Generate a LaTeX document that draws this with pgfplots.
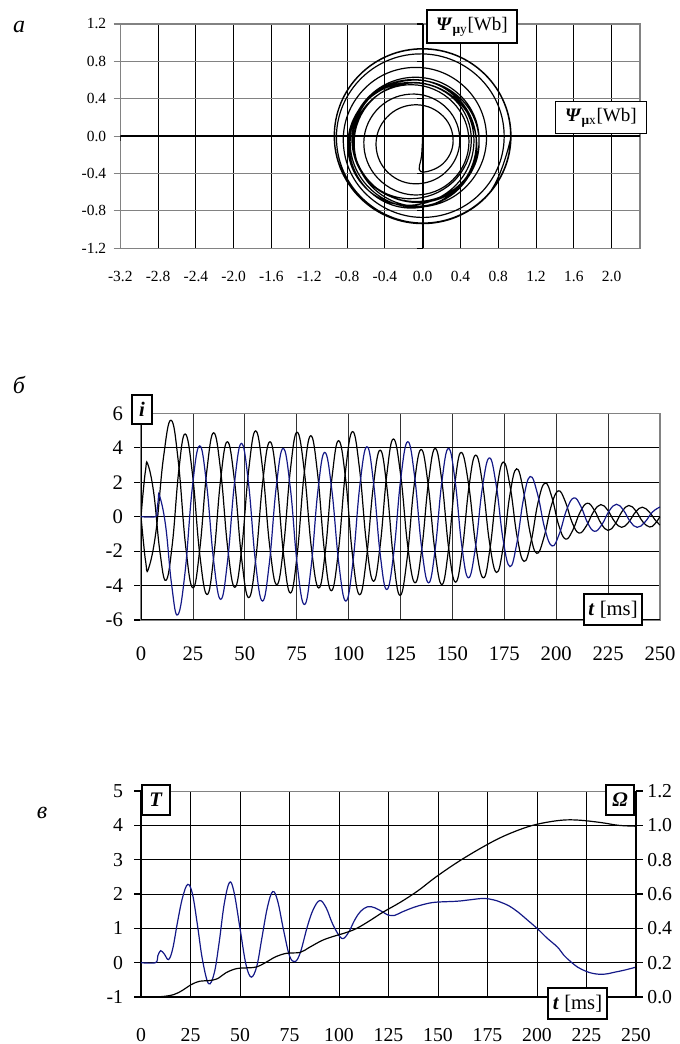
\documentclass[border=0pt]{standalone}
\usepackage{fontspec}
\setmainfont{Liberation Serif}
\usepackage{pgfplots}
\pgfplotsset{compat=1.18}
\definecolor{cblue}{RGB}{20,25,135}
\definecolor{gline}{RGB}{130,130,130}
\newcommand{\fs}[1]{\fontsize{#1}{#1}\selectfont}

\begin{document}
\begin{tikzpicture}
\useasboundingbox (0,0) rectangle (509.25pt,783pt);

% ================= panel a =================
\begin{axis}[at={(90.2pt,596.8pt)}, anchor=south west, scale only axis,
  width=389.8pt, height=168.2pt,
  xmin=-3.2, xmax=2.3, ymin=-1.2, ymax=1.2,
  xtick={-3.2,-2.8,-2.4,-2.0,-1.6,-1.2,-0.8,-0.4,0,0.4,0.8,1.2,1.6,2.0},
  xticklabels={-3.2,-2.8,-2.4,-2.0,-1.6,-1.2,-0.8,-0.4,0.0,0.4,0.8,1.2,1.6,2.0},
  ytick={-1.2,-0.8,-0.4,0,0.4,0.8,1.2},
  yticklabels={-1.2,-0.8,-0.4,0.0,0.4,0.8,1.2},
  tick label style={font=\fs{11.6}},
  xtick style={draw=none}, ytick style={gline, line width=0.8pt},
  tick align=outside, major tick length=5pt, ytick pos=left,
  xticklabel style={yshift=-8.5pt, text height=8pt, text depth=0pt}, yticklabel style={xshift=-2pt},
  grid=major, x grid style={black, line width=0.6pt}, y grid style={gline, line width=0.9pt},
  axis line style={gline, line width=0.9pt},
]
\draw[black, line width=1.3pt] (axis cs:-3.2,0) -- (axis cs:2.3,0);
\draw[black, line width=1.3pt] (axis cs:0,-1.2) -- (axis cs:0,1.2);
\pgfplotsinvokeforeach{-3.2,-2.8,-2.4,-2.0,-1.6,-1.2,-0.8,-0.4,0.4,0.8,1.2,1.6,2.0}{
  \draw[black, line width=0.8pt] (axis cs:#1,0) -- ([yshift=-3.5pt]axis cs:#1,0);}
\pgfplotsinvokeforeach{-1.2,-0.8,-0.4,0.4,0.8,1.2}{
  \draw[black, line width=0.8pt] (axis cs:0,#1) -- ([xshift=-4pt]axis cs:0,#1);}
\addplot[black, line width=0.9pt, smooth, tension=0.68] coordinates {
(0,0) (0,0.2) (0,0.35) (0,0.2) (0,0) (-0.01,-0.2)
(-0.02,-0.38) (0.215,-0.295) (0.3225,-0.0525) (0.219,0.211) (-0.055,0.335) (-0.35,0.23) (-0.4925,-0.0575) (-0.3885,-0.3665)
(-0.09,-0.51) (0.24,-0.389) (0.3925,-0.06) (0.264,0.29) (-0.085,0.45) (-0.455,0.311) (-0.6225,-0.06) (-0.473,-0.452)
(-0.08,-0.63) (0.321,-0.466) (0.49,-0.055) (0.316,0.366) (-0.11,0.55) (-0.547,0.382) (-0.74,-0.045) (-0.5725,-0.4825)
(-0.14,-0.67) (0.317,-0.4945) (0.515,-0.055) (0.341,0.388) (-0.10,0.57) (-0.544,0.377) (-0.725,-0.085) (-0.528,-0.5505)
(-0.06,-0.75) (0.39,-0.557) (0.5725,-0.0925) (0.371,0.376) (-0.105,0.575) (-0.584,0.387) (-0.7925,-0.0775) (-0.611,-0.546)
(-0.15,-0.74) (0.3355,-0.5405) (0.5425,-0.065) (0.3585,0.4085) (-0.10,0.605) (-0.557,0.412) (-0.7375,-0.055) (-0.5295,-0.5195)
(-0.05,-0.71) (0.41,-0.523) (0.5975,-0.06) (0.396,0.407) (-0.085,0.60) (-0.5695,0.4005) (-0.7775,-0.08) (-0.59,-0.564)
(-0.12,-0.77) (0.365,-0.563) (0.5675,-0.0775) (0.3745,0.4045) (-0.095,0.605) (-0.561,0.413) (-0.7475,-0.0525) (-0.544,-0.514)
(-0.07,-0.70) (0.399,-0.5125) (0.5975,-0.045) (0.403,0.4295) (-0.075,0.63) (-0.56,0.4315) (-0.7675,-0.055) (-0.57,-0.5485)
(-0.08,-0.76) (0.437,-0.563) (0.675,-0.05) (0.4805,0.4895) (-0.045,0.735) (-0.597,0.526) (-0.84,-0.03) (-0.6065,-0.6125)
(-0.01,-0.87) (0.599,-0.6255) (0.8625,-0.015) (0.616,0.6095) (-0.005,0.88) (-0.64,0.6285) (-0.9125,-0.005) (-0.651,-0.6525)
(0,-0.93) (0.658,-0.658) (0.931,0) (0.659,0.659) (0,0.9325) (-0.66,0.66) (-0.934,0) (-0.66,-0.66)
(0,-0.935) (0.661,-0.661) (0.935,0) (0.661,0.661) (0,0.936) (-0.662,0.662) (-0.936,0) (-0.662,-0.662)
(0,-0.937) (0.662,-0.662) (0.937,0)
};
\end{axis}

% ================= panel b =================
\begin{axis}[at={(105.75pt,318pt)}, anchor=south west, scale only axis,
  width=389.25pt, height=155pt,
  xmin=0, xmax=250, ymin=-6, ymax=6,
  xtick={0,25,50,75,100,125,150,175,200,225,250},
  xticklabels={0,25,50,75,100,125,150,175,200,225,250},
  ytick={-6,-4,-2,0,2,4,6},
  yticklabels={-6,-4,-2,0,2,4,6},
  tick label style={font=\fs{15.5}},
  xtick style={draw=none}, ytick style={black, line width=0.8pt},
  tick align=outside, major tick length=5pt, ytick pos=left,
  xticklabel style={yshift=-11pt, text height=11pt, text depth=0pt}, yticklabel style={xshift=-5pt},
  grid=major, x grid style={black!80, line width=0.6pt}, y grid style={black, line width=0.7pt},
  axis line style={gline, line width=0.9pt},
]
\draw[black, line width=1pt] (rel axis cs:0,0) -- (rel axis cs:0,1);
\draw[black, line width=1pt] (rel axis cs:0,0) -- (rel axis cs:1,0);
\draw[black, line width=1.1pt] (axis cs:0,0) -- (axis cs:250,0);
\addplot[black, line width=0.9pt, smooth, tension=0.72] coordinates {
(0,0) (1.2,-1.5) (2.3,-2.65) (3.5,-3.06)
(7.17,-0.90) (10.83,3.44) (14.5,5.6)
(18.0,3.17) (21.5,-1.70) (25,-4.13)
(28.33,-1.88) (31.67,2.62) (35,4.87)
(38.4,2.63) (41.8,-1.86) (45.2,-4.1)
(48.53,-1.83) (51.87,2.71) (55.2,4.98)
(58.6,2.75) (62.0,-1.72) (65.4,-3.95)
(68.67,-1.74) (71.93,2.69) (75.2,4.9)
(78.67,2.64) (82.13,-1.88) (85.6,-4.14)
(88.8,-2.00) (92.0,2.27) (95.2,4.41)
(98.57,2.18) (101.93,-2.30) (105.3,-4.53)
(108.6,-2.43) (111.9,1.76) (115.2,3.86)
(118.4,1.75) (121.6,-2.46) (124.8,-4.57)
(128.17,-2.45) (131.53,1.78) (134.9,3.9)
(138.23,1.94) (141.57,-1.98) (144.9,-3.94)
(148.0,-2.02) (151.1,1.81) (154.2,3.73)
(157.77,1.91) (161.33,-1.73) (164.9,-3.55)
(168.1,-1.87) (171.3,1.49) (174.5,3.17)
(177.83,1.73) (181.17,-1.16) (184.5,-2.6)
(187.87,-1.46) (191.23,0.81) (194.6,1.95)
(197.9,1.14) (201.2,-0.49) (204.5,-1.3)
(208.0,-0.78) (211.5,0.26) (215,0.78)
(218.33,0.385) (221.67,-0.405) (225,-0.8)
(228.33,-0.44) (231.67,0.29) (235,0.65)
(238.33,0.34) (241.67,-0.29) (245,-0.6)
(247.5,-0.42) (250,0)
};
\addplot[black, line width=0.9pt, smooth, tension=0.72] coordinates {
(0,0) (1.1,1.5) (2.2,2.7) (3.2,3.08)
(6.13,1.385) (9.07,-2.0) (12,-3.7)
(15.1,-1.575) (18.2,2.675) (21.3,4.8)
(24.8,2.47) (28.3,-2.19) (31.8,-4.52)
(35.07,-2.30) (38.33,2.13) (41.6,4.35)
(45.03,2.09) (48.47,-2.44) (51.9,-4.7)
(55.3,-2.44) (58.7,2.09) (62.1,4.35)
(65.4,2.155) (68.7,-2.235) (72,-4.43)
(75.27,-2.15) (78.53,2.42) (81.8,4.7)
(85.1,2.45) (88.4,-2.05) (91.7,-4.3)
(95.1,-1.99) (98.5,2.63) (101.9,4.94)
(105.27,2.77) (108.63,-1.58) (112,-3.75)
(115.2,-1.685) (118.4,2.445) (121.6,4.51)
(125.07,2.42) (128.53,-1.75) (132,-3.84)
(135.23,-1.89) (138.47,2.01) (141.7,3.96)
(144.97,2.02) (148.23,-1.86) (151.5,-3.8)
(154.73,-1.96) (157.97,1.73) (161.2,3.57)
(164.57,1.87) (167.93,-1.54) (171.3,-3.24)
(174.5,-1.735) (177.7,1.275) (180.9,2.78)
(184.13,1.55) (187.37,-0.90) (190.6,-2.13)
(194.07,-1.22) (197.53,0.59) (201,1.5)
(204.33,0.89) (207.67,-0.34) (211,-0.95)
(214.5,-0.54) (218.0,0.29) (221.5,0.7)
(224.83,0.37) (228.17,-0.29) (231.5,-0.62)
(234.83,-0.33) (238.17,0.26) (241.5,0.55)
(245,0.25) (247.5,-0.17) (250,-0.49)
};
\addplot[cblue, line width=0.9pt, smooth, tension=0.72] coordinates {
(0,0) (7,0) (7.63,0.31) (8.27,0.92) (8.9,1.23)
(11.83,-0.50) (14.77,-3.97) (17.7,-5.7)
(21.2,-3.25) (24.7,1.66) (28.2,4.11)
(31.6,1.88) (35.0,-2.57) (38.4,-4.8)
(41.73,-2.54) (45.07,1.99) (48.4,4.25)
(51.77,1.96) (55.13,-2.61) (58.5,-4.9)
(61.83,-2.69) (65.17,1.75) (68.5,3.96)
(71.9,1.70) (75.3,-2.84) (78.7,-5.1)
(81.97,-2.89) (85.23,1.52) (88.5,3.73)
(91.9,1.57) (95.3,-2.74) (98.7,-4.9)
(102.07,-2.66) (105.43,1.82) (108.8,4.06)
(112.0,1.99) (115.2,-2.16) (118.4,-4.23)
(121.77,-2.09) (125.13,2.21) (128.5,4.35)
(131.83,2.30) (135.17,-1.79) (138.5,-3.84)
(141.7,-1.89) (144.9,2.01) (148.1,3.96)
(151.3,2.08) (154.5,-1.67) (157.7,-3.55)
(161.07,-1.81) (164.43,1.67) (167.8,3.41)
(171.1,1.83) (174.4,-1.32) (177.7,-2.9)
(180.97,-1.59) (184.23,1.02) (187.5,2.33)
(191.0,1.32) (194.5,-0.69) (198,-1.7)
(201.5,-1.00) (205.0,0.39) (208.5,1.09)
(211.83,0.61) (215.17,-0.37) (218.5,-0.85)
(222.0,-0.46) (225.5,0.33) (229,0.72)
(232.33,0.385) (235.67,-0.285) (239,-0.62)
(242.67,-0.325) (246.33,0.265) (250,0.56)
};
\end{axis}

% ================= panel c =================
\begin{axis}[at={(105.75pt,35.25pt)}, anchor=south west, scale only axis,
  width=371.25pt, height=154.5pt,
  xmin=0, xmax=250, ymin=-1, ymax=5,
  axis y line*=left, axis x line*=bottom,
  xtick={0,25,50,75,100,125,150,175,200,225,250},
  xticklabels={0,25,50,75,100,125,150,175,200,225,250},
  ytick={-1,0,1,2,3,4,5},
  yticklabels={-1,0,1,2,3,4,5},
  tick label style={font=\fs{14.8}},
  xtick style={draw=none}, ytick style={black, line width=0.8pt},
  tick align=outside, major tick length=5pt,
  xticklabel style={yshift=-14.5pt, text height=10.5pt, text depth=0pt}, yticklabel style={xshift=-5pt},
  grid=major, grid style={black, line width=0.6pt},
  axis line style={-, black, line width=0.9pt},
]
\draw[gline, line width=0.9pt] (rel axis cs:0,1) -- (rel axis cs:1,1);
\addplot[cblue, line width=0.9pt, smooth, tension=0.6] coordinates {
(0,0) (7.3,0) (8.5,0.2) (9.9,0.35) (11.8,0.25) (13.9,0.09) (16,0.4) (18.5,1.2) (21,1.9)
(23.6,2.28) (26,2.0) (28.5,1.1) (31,0.1) (34.1,-0.61) (37,-0.3) (39.5,0.6) (42,1.7)
(44.7,2.34) (47,2.05) (50,1.0) (53,-0.05) (55.7,-0.42) (58.5,-0.1) (61,0.7) (63.8,1.6)
(66.5,2.07) (69,1.8) (72,0.95) (75,0.2) (77.8,0.03) (80.5,0.3) (84,1.05) (87,1.55)
(90.3,1.81) (93.5,1.6) (97,1.1) (101.3,0.71) (104.5,0.85) (108,1.25) (111,1.5)
(114.5,1.63) (118,1.6) (122,1.48) (125,1.38) (127.8,1.37) (132,1.48) (137.7,1.61)
(143,1.7) (148.7,1.76) (159.7,1.79) (166,1.83) (172.9,1.87) (178,1.83) (181.7,1.76)
(186,1.65) (190.5,1.47) (195,1.25) (200.4,0.98) (205,0.72) (210.4,0.45) (213.5,0.22)
(217,0.03) (220.5,-0.13) (224.7,-0.25) (228,-0.31) (232,-0.34) (236,-0.32) (239,-0.28)
(244,-0.22) (250,-0.13)
};
\end{axis}
\begin{axis}[at={(105.75pt,35.25pt)}, anchor=south west, scale only axis,
  width=371.25pt, height=154.5pt,
  xmin=0, xmax=250, ymin=0, ymax=1.2,
  axis y line*=right, axis x line=none,
  ytick={0,0.2,0.4,0.6,0.8,1.0,1.2},
  yticklabels={0.0,0.2,0.4,0.6,0.8,1.0,1.2},
  tick label style={font=\fs{14.8}},
  ytick style={black, line width=0.8pt},
  tick align=outside, major tick length=5pt,
  yticklabel style={xshift=0pt},
  axis line style={-, black, line width=0.9pt},
]
\addplot[black, line width=0.9pt, smooth, tension=0.6] coordinates {
(0,0) (10,0.002) (16.5,0.014) (21,0.039) (25.3,0.072) (29.7,0.092) (34,0.095)
(38.5,0.106) (43,0.142) (48.5,0.166) (54,0.17) (58.4,0.175) (62.8,0.2) (68.3,0.236)
(73.8,0.255) (80.4,0.26) (85.2,0.29) (91.4,0.329) (96.9,0.352) (103.5,0.375) (109,0.40)
(115.6,0.445) (122.2,0.494) (131,0.552) (139.9,0.619) (148.7,0.697) (159.7,0.784)
(170.7,0.861) (181.7,0.929) (192.7,0.981) (201.5,1.01) (212.6,1.03) (221.4,1.03)
(232.4,1.016) (241.2,1.0) (250,0.995)
};
\end{axis}

% ================= annotations (pixel coordinates) =================
\begin{scope}[x=0.75pt, y=-0.75pt, yshift=783pt]
\node[font=\fs{18}\itshape] at (19,27) {а};
\node[font=\fs{18}\itshape] at (19,385) {б};
\node[font=\fs{18}\itshape] at (42,813) {в};
\tikzset{lbl/.style={draw=black, line width=1.1pt, fill=white, inner sep=1pt}}
\node[lbl, font=\fs{14.3}, minimum width=67.5pt, minimum height=24.75pt] at (472,26.5)
  {\textbf{\textit{Ψ}}\textsubscript{\textbf{μ}y}[Wb]};
\node[lbl, font=\fs{14.3}, minimum width=68.25pt, minimum height=24pt] at (601,117.5)
  {\textbf{\textit{Ψ}}\textsubscript{\textbf{μ}x}[Wb]};
\node[lbl, font=\fs{15.5}, minimum width=15pt, minimum height=21.75pt] at (142,409.5)
  {\textbf{\textit{i}}};
\node[lbl, font=\fs{15.5}, minimum width=43.5pt, minimum height=23.25pt] at (613,609.5)
  {\textbf{\textit{t}} [ms]};
\node[lbl, font=\fs{15.5}, minimum width=21pt, minimum height=22.5pt] at (156,800)
  {\textbf{\textit{T}}};
\node[lbl, font=\fs{15.5}, minimum width=21pt, minimum height=22.5pt] at (620,800)
  {\textbf{\textit{Ω}}};
\node[lbl, font=\fs{15.5}, minimum width=44.25pt, minimum height=23.25pt] at (577.5,1003.5)
  {\textbf{\textit{t}} [ms]};
\end{scope}
\end{tikzpicture}
\end{document}
